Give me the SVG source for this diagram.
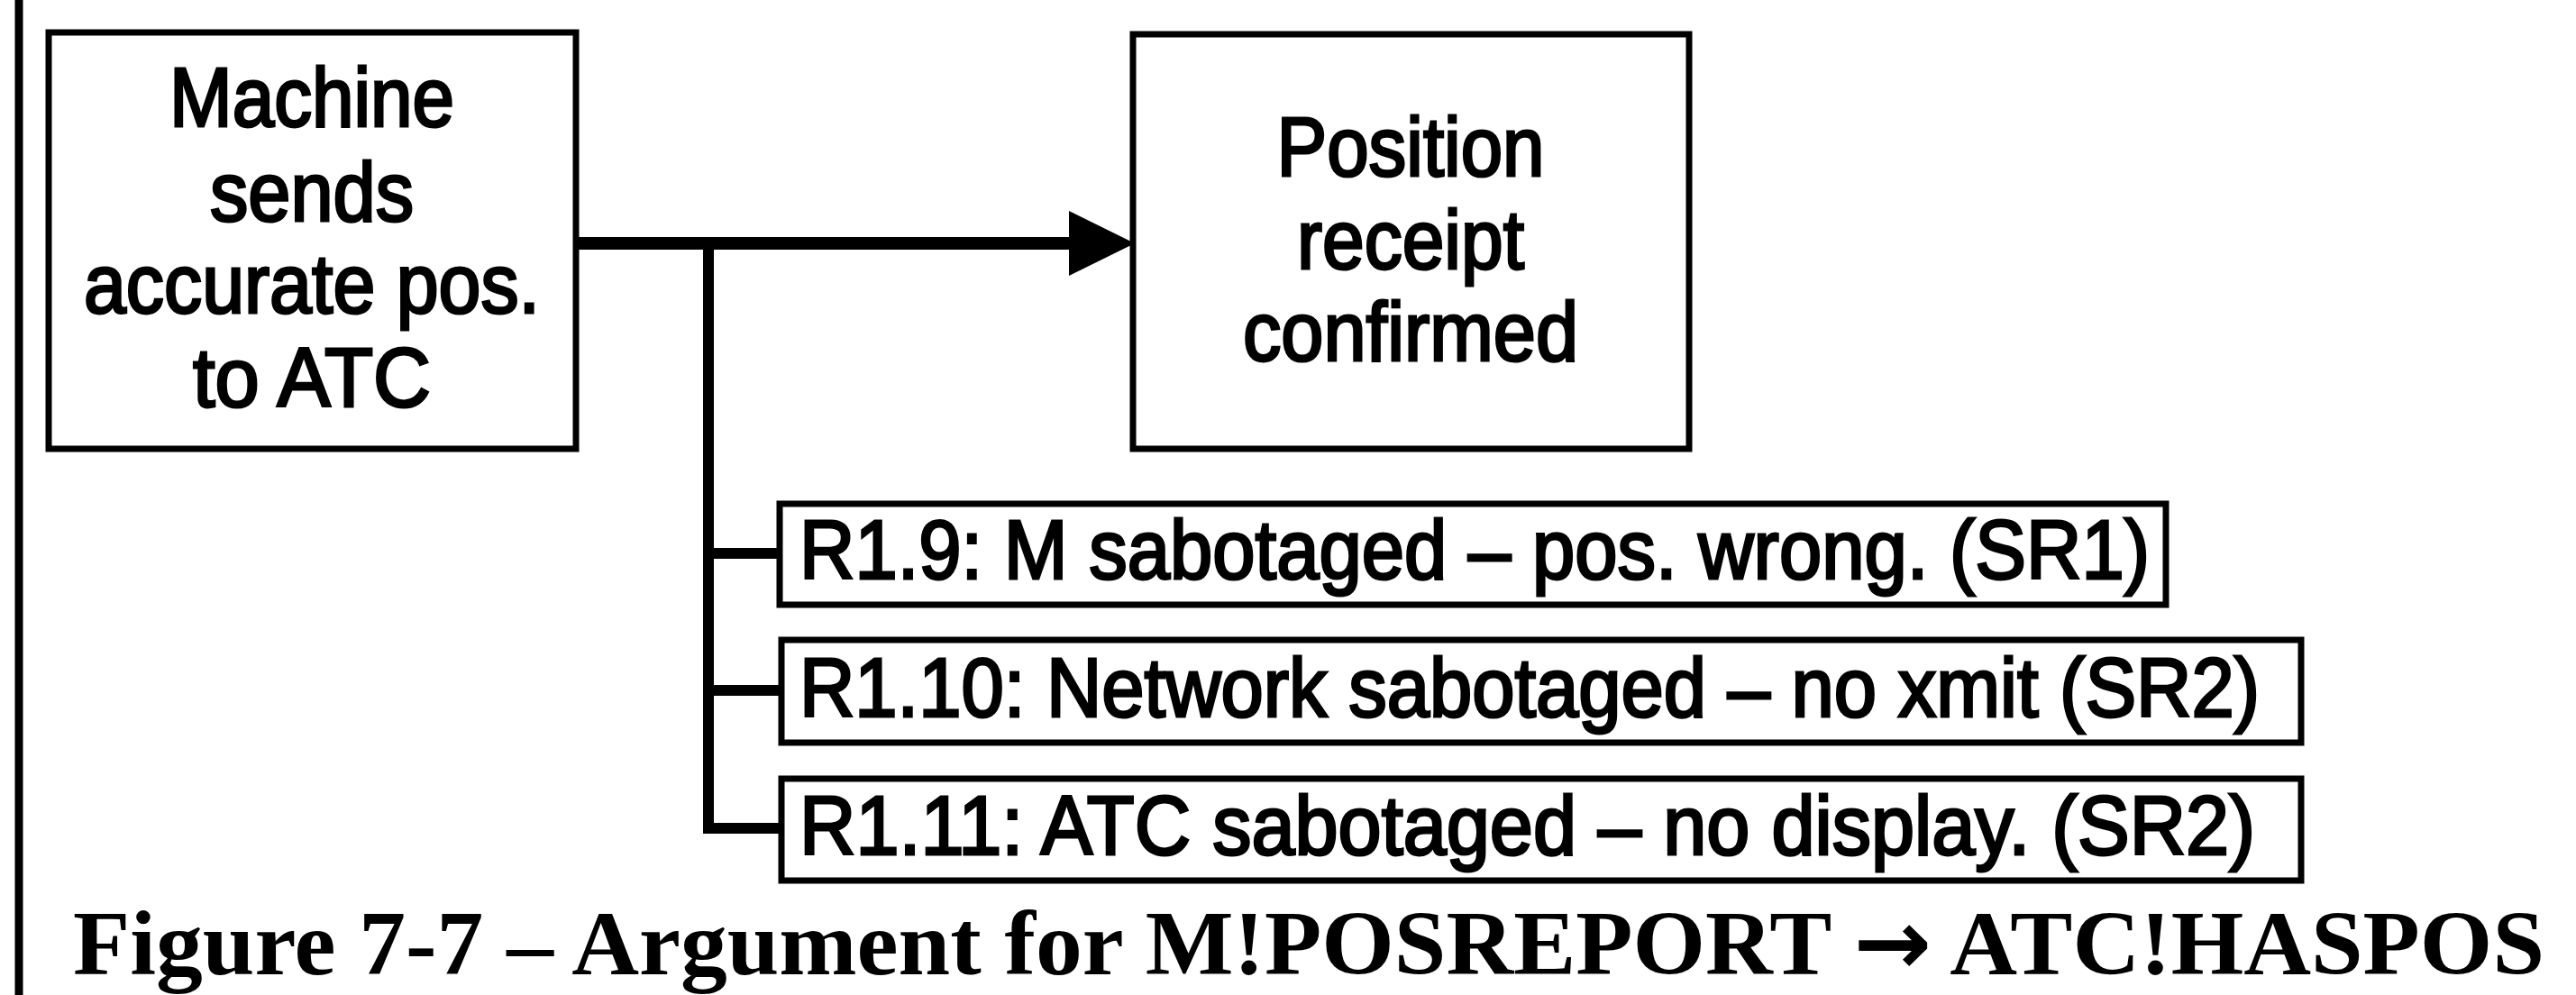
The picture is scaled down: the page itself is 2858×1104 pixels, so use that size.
<svg xmlns="http://www.w3.org/2000/svg" width="2858" height="1104" viewBox="0 0 2858 1104">
  <defs>
    <style>
      .box { fill: #fff; stroke: #000; stroke-width: 7; }
      .lbl { font-family: "Liberation Sans", Arial, sans-serif; font-size: 92px; fill: #000; stroke: #000; stroke-width: 3; text-anchor: middle; }
      .rl { font-family: "Liberation Sans", Arial, sans-serif; font-size: 92px; fill: #000; stroke: #000; stroke-width: 3; }
      .cap { font-family: "Liberation Serif", "Times New Roman", "DejaVu Serif", serif; font-size: 101px; font-weight: bold; fill: #000; }
      .arr { font-family: "DejaVu Sans", sans-serif; font-weight: bold; }
      .conn { fill: none; stroke: #000; stroke-linecap: square; }
    </style>
  </defs>
  <rect width="2858" height="1104" fill="#fff"/>
  <line x1="21" y1="0" x2="21" y2="1104" stroke="#000" stroke-width="9"/>

  <g id="connectors">
    <line class="conn" x1="636" y1="270" x2="1190" y2="270" stroke-width="14"/>
    <polygon points="1186,234 1259,270 1186,306" fill="#000"/>
    <path class="conn" d="M786,270 V919 H864" stroke-width="12"/>
    <line class="conn" x1="786" y1="614" x2="862" y2="614" stroke-width="12"/>
    <line class="conn" x1="786" y1="766" x2="864" y2="766" stroke-width="12"/>
  </g>

  <g id="node-machine">
    <rect class="box" x="54" y="36" width="585" height="462"/>
    <text class="lbl" x="346" y="140" textLength="316" lengthAdjust="spacingAndGlyphs">Machine</text>
    <text class="lbl" x="346" y="245" textLength="226" lengthAdjust="spacingAndGlyphs">sends</text>
    <text class="lbl" x="346" y="347" textLength="506" lengthAdjust="spacingAndGlyphs">accurate pos.</text>
    <text class="lbl" x="346" y="451" textLength="264" lengthAdjust="spacingAndGlyphs">to ATC</text>
  </g>

  <g id="node-position">
    <rect class="box" x="1257" y="38" width="617" height="460"/>
    <text class="lbl" x="1565" y="195" textLength="297" lengthAdjust="spacingAndGlyphs">Position</text>
    <text class="lbl" x="1565" y="298" textLength="252" lengthAdjust="spacingAndGlyphs">receipt</text>
    <text class="lbl" x="1565" y="400" textLength="372" lengthAdjust="spacingAndGlyphs">confirmed</text>
  </g>

  <g id="node-r19">
    <rect class="box" x="865" y="559" width="1538" height="112"/>
    <text class="rl" x="887" y="642" textLength="1498" lengthAdjust="spacingAndGlyphs">R1.9: M sabotaged – pos. wrong. (SR1)</text>
  </g>

  <g id="node-r110">
    <rect class="box" x="867" y="710" width="1686" height="114"/>
    <text class="rl" x="887" y="795" textLength="1620" lengthAdjust="spacingAndGlyphs">R1.10: Network sabotaged – no xmit (SR2)</text>
  </g>

  <g id="node-r111">
    <rect class="box" x="867" y="864" width="1686" height="113"/>
    <text class="rl" x="887" y="948" textLength="1615" lengthAdjust="spacingAndGlyphs">R1.11: ATC sabotaged – no display. (SR2)</text>
  </g>

  <text class="cap" x="81" y="1081" textLength="2742" lengthAdjust="spacingAndGlyphs">Figure 7-7 – Argument for M!POSREPORT <tspan class="arr">→</tspan> ATC!HASPOS</text>
</svg>
